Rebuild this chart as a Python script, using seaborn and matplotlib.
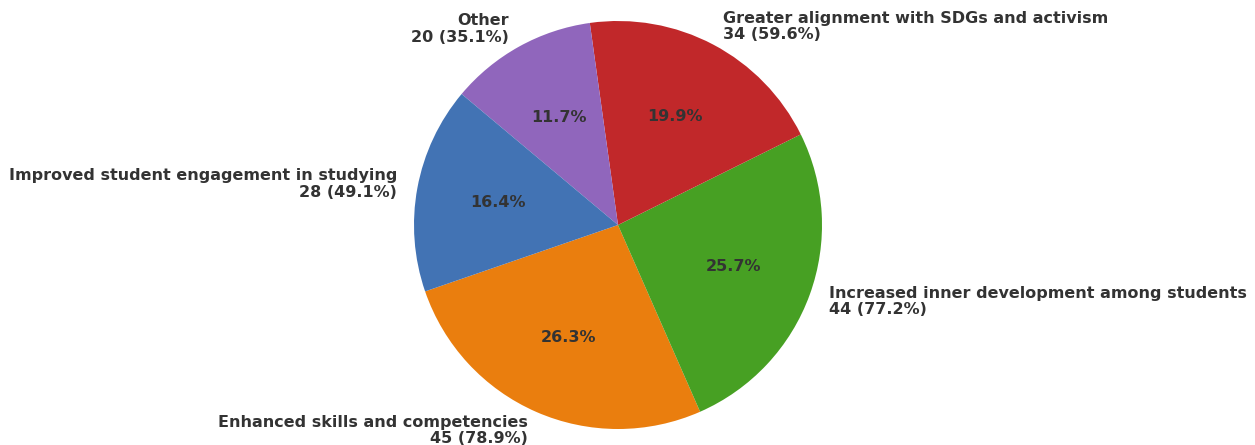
import matplotlib
matplotlib.use("Agg")
import matplotlib.pyplot as plt
import seaborn as sns

# Survey responses: perceived benefits (multiple answers allowed, 57 respondents)
categories = [
    "Enhanced skills and competencies",
    "Increased inner development among students",
    "Greater alignment with SDGs and activism",
    "Other",
    "Improved student engagement in studying",
]
counts = [45, 44, 34, 20, 28]
respondents = 57

colors = ["#EA7E0E", "#47A023", "#C1282A", "#9066BC", "#4273B4"]

sns.set_theme(style="white")
plt.rcParams["font.family"] = ["DejaVu Sans"]

labels = [f"{c}\n{n} ({n / respondents * 100:.1f}%)" for c, n in zip(categories, counts)]

fig = plt.figure(figsize=(12.55, 4.45), dpi=100)
cx, cy, r = 618, 225, 204
W, H = 1255, 445
ax = fig.add_axes([(cx - r) / W, (H - cy - r) / H, 2 * r / W, 2 * r / H])

wedges, texts, autotexts = ax.pie(
    counts,
    labels=labels,
    colors=colors,
    autopct="%1.1f%%",
    startangle=199,
    pctdistance=0.6,
    labeldistance=1.1,
    wedgeprops=dict(linewidth=0, edgecolor="none"),
    textprops=dict(fontsize=11.5, fontweight="bold", color="#333333"),
)
for t in texts:
    t.set_linespacing(1.15)

ax.set_xlim(-1, 1)
ax.set_ylim(-1, 1)
ax.set_aspect("equal")
ax.axis("off")
for t in texts + autotexts:
    t.set_clip_on(False)

fig.savefig("out.png", dpi=100)
